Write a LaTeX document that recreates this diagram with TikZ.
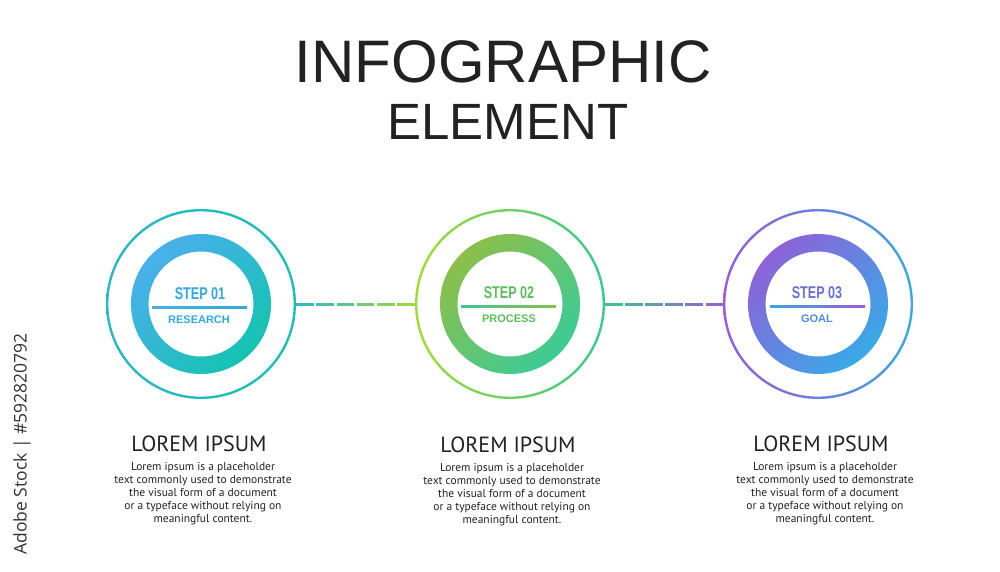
\documentclass[tikz,border=0pt]{standalone}
\usepackage{fontspec}
\setmainfont{Liberation Sans}
\newfontfamily\bodyfont{PT Sans}
\newfontfamily\markfont{Open Sans}
\usetikzlibrary{positioning,calc}
\definecolor{ie-ink}{HTML}{222222}
\definecolor{ie-mark}{HTML}{333333}
% step 01 (blue / teal)
\definecolor{ie-teal-a}{HTML}{2AB6C9}
\definecolor{ie-teal-b}{HTML}{1CBFB6}
\definecolor{ie-sky}{HTML}{4AAFEC}
\definecolor{ie-aqua}{HTML}{15C3B1}
\definecolor{ie-one}{HTML}{31A9DE}
% step 02 (lime / green)
\definecolor{ie-lime}{HTML}{A3DB36}
\definecolor{ie-mint}{HTML}{3AC792}
\definecolor{ie-olive}{HTML}{8CBF4B}
\definecolor{ie-jade}{HTML}{3CCB97}
\definecolor{ie-two}{HTML}{5CBE5B}
% step 03 (violet / blue)
\definecolor{ie-violet}{HTML}{9C5AD8}
\definecolor{ie-azure}{HTML}{3BA7E3}
\definecolor{ie-plum}{HTML}{8D62D8}
\definecolor{ie-blue}{HTML}{38AAE8}
\definecolor{ie-three}{HTML}{6A6FD8}
\definecolor{ie-goal}{HTML}{4C8DE0}
% dashed link, coloured piece by piece
\newcommand{\steplink}[4]{%
  \foreach \i in {0,...,5}{
    \pgfmathsetmacro{\sa}{\i*20.3/119}
    \pgfmathsetmacro{\sb}{(\i*20.3+17.5)/119}
    \pgfmathtruncatemacro{\pc}{100*(\i+0.5)/6}
    \draw[line width=3pt,color=#4!\pc!#3]
      ($(#1.east)!\sa!(#2.west)$) -- ($(#1.east)!\sb!(#2.west)$);
  }}

\begin{document}
\begin{tikzpicture}[x=1pt,y=-1pt,
  stepdisc/.style={circle,minimum size=190pt,inner sep=0pt},
  steptitle/.style={anchor=base,font=\fontsize{17}{17}\selectfont\bfseries},
  steptag/.style={anchor=base,font=\fontsize{11}{11}\selectfont\bfseries},
  headtext/.style={anchor=base,ie-ink,font=\bodyfont\fontsize{22}{22}\selectfont},
  bodytext/.style={align=center,ie-ink,inner sep=0pt,
    font=\bodyfont\fontsize{11.5}{13}\selectfont}]

\fill[white] (0,0) rectangle (1000,572);
\useasboundingbox (0,0) rectangle (1000,572);

% ============ TITLE ============
\node[anchor=base,ie-ink,font=\fontsize{60}{60}\selectfont] (title) at (503,83) {INFOGRAPHIC};
\node[anchor=base,ie-ink,font=\fontsize{51}{51}\selectfont] (subtitle) at (508,140) {ELEMENT};

% ============ STEP DISCS ============
\node[stepdisc] (s1) at (201,304) {};
\node[stepdisc] (s2) at (510,304) {};
\node[stepdisc] (s3) at (818,304) {};

% outer rims
\shade[left color=ie-teal-a,right color=ie-teal-b,even odd rule]
  (s1.center) circle (95) circle (92.6);
\shade[left color=ie-lime,right color=ie-mint,even odd rule]
  (s2.center) circle (95) circle (92.6);
\shade[left color=ie-violet,right color=ie-azure,even odd rule]
  (s3.center) circle (95) circle (92.6);

% thick rings
\shade[top color=ie-sky,bottom color=ie-aqua,shading angle=45,even odd rule]
  (s1.center) circle (70) circle (52.5);
\shade[top color=ie-olive,bottom color=ie-jade,shading angle=45,even odd rule]
  (s2.center) circle (70) circle (52.5);
\shade[top color=ie-plum,bottom color=ie-blue,shading angle=45,even odd rule]
  (s3.center) circle (70) circle (52.5);

% links
\steplink{s1}{s2}{ie-teal-a}{ie-lime}
\steplink{s2}{s3}{ie-mint}{ie-violet}

% ============ STEP LABELS ============
\node[steptitle,ie-one] (t1) at (200,299) {\scalebox{0.74}[1]{STEP 01}};
\shade[left color=ie-sky,right color=ie-one] (152,306) rectangle (247,308);
\node[steptag,ie-one] (g1) at (199,323) {RESEARCH};

\node[steptitle,ie-two] (t2) at (509,298) {\scalebox{0.74}[1]{STEP 02}};
\shade[left color=ie-mint,right color=ie-olive] (461,305) rectangle (556,307);
\node[steptag,ie-two] (g2) at (509,322) {PROCESS};

\node[steptitle,ie-three] (t3) at (817,298) {\scalebox{0.74}[1]{STEP 03}};
\shade[left color=ie-azure,right color=ie-violet] (770,305) rectangle (865,307);
\node[steptag,ie-goal] (g3) at (817,322) {GOAL};

% ============ TEXT COLUMNS ============
\node[headtext] (h1) at (199,451) {LOREM IPSUM};
\node[bodytext] (b1) at (203,494) {Lorem ipsum is a placeholder\\text commonly used to demonstrate\\the visual form of a document\\or a typeface without relying on\\meaningful content.};

\node[headtext] (h2) at (508,452) {LOREM IPSUM};
\node[bodytext] (b2) at (512,495) {Lorem ipsum is a placeholder\\text commonly used to demonstrate\\the visual form of a document\\or a typeface without relying on\\meaningful content.};

\node[headtext] (h3) at (821,451) {LOREM IPSUM};
\node[bodytext] (b3) at (825,494) {Lorem ipsum is a placeholder\\text commonly used to demonstrate\\the visual form of a document\\or a typeface without relying on\\meaningful content.};

% side stamp
\node[rotate=90,ie-mark,font=\markfont\fontsize{17.5}{17.5}\selectfont] (stamp) at (22,444) {Adobe Stock | \#592820792};

\end{tikzpicture}
\end{document}
